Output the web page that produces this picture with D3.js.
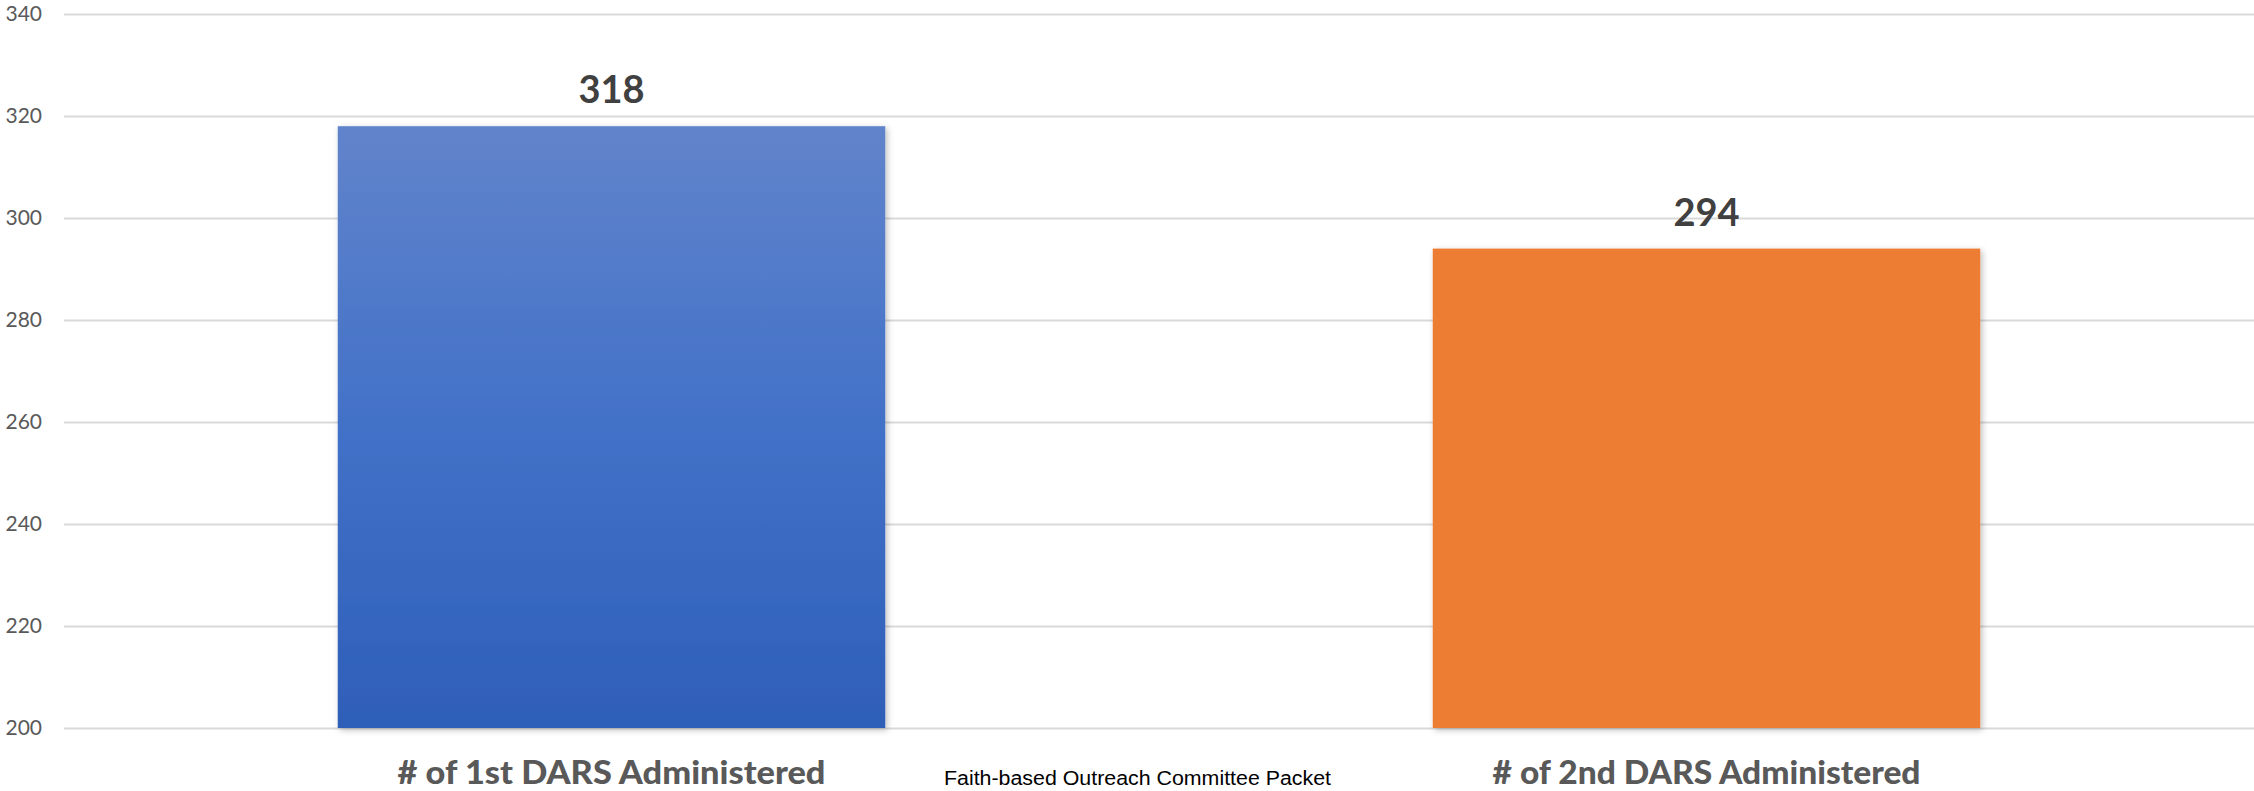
<!DOCTYPE html>
<html>
<head>
<meta charset="utf-8">
<script src="https://cdn.jsdelivr.net/npm/d3@7"></script>
<style>
  html, body { margin: 0; padding: 0; background: #fff; }
  svg { display: block; }
</style>
</head>
<body>
<div id="chart"></div>
<script>
const categories = ["# of 1st DARS Administered", "# of 2nd DARS Administered"];
const values = [318, 294];
const yTicks = [200, 220, 240, 260, 280, 300, 320, 340];
const footer = "Faith-based Outreach Committee Packet";

const W = 2254, H = 791;
const margin = { left: 64, right: 0, top: 14, bottom: 63 };

const svg = d3.select("#chart").append("svg").attr("width", W).attr("height", H);
const defs = svg.append("defs");

const grad = defs.append("linearGradient").attr("id", "blueGrad")
  .attr("x1", 0).attr("y1", 0).attr("x2", 0).attr("y2", 1);
grad.append("stop").attr("offset", "0%").attr("stop-color", "#6184cb");
grad.append("stop").attr("offset", "50%").attr("stop-color", "#4271c8");
grad.append("stop").attr("offset", "100%").attr("stop-color", "#2e5fb8");

const shadow = defs.append("filter").attr("id", "shadow")
  .attr("x", "-5%").attr("y", "-5%").attr("width", "115%").attr("height", "115%");
shadow.append("feDropShadow").attr("dx", 2).attr("dy", 2).attr("stdDeviation", 3)
  .attr("flood-color", "#000").attr("flood-opacity", 0.25);

const x = d3.scaleBand().domain(categories)
  .range([margin.left, W - margin.right]).paddingInner(0.5).paddingOuter(0.25);
const y = d3.scaleLinear().domain([200, 340]).range([H - margin.bottom, margin.top]);

// gridlines
const gAxis = svg.append("g").attr("transform", `translate(${margin.left},0)`)
  .call(d3.axisLeft(y).tickValues(yTicks).tickSize(-(W - margin.left - margin.right)).tickPadding(22));
gAxis.select(".domain").remove();
gAxis.selectAll(".tick line").attr("stroke", "#d9d9d9").attr("stroke-width", 2);
gAxis.selectAll(".tick text").attr("fill", "#595959")
  .style("font-family", "Lato, 'Open Sans', sans-serif").style("font-size", "21px");

// bars
const colors = ["url(#blueGrad)", "#ed7d31"];
svg.append("g").selectAll("rect").data(values).join("rect")
  .attr("x", (d, i) => x(categories[i]))
  .attr("y", d => y(d))
  .attr("width", x.bandwidth())
  .attr("height", d => y(200) - y(d))
  .attr("fill", (d, i) => colors[i])
  .attr("filter", "url(#shadow)");

// data labels
svg.append("g").selectAll("text").data(values).join("text")
  .attr("x", (d, i) => x(categories[i]) + x.bandwidth() / 2)
  .attr("y", d => y(d) - 23)
  .attr("text-anchor", "middle")
  .attr("fill", "#404040")
  .style("font-family", "Lato, sans-serif").style("font-weight", "bold").style("font-size", "38px")
  .text(d => d);

// category labels
svg.append("g").selectAll("text").data(categories).join("text")
  .attr("x", d => x(d) + x.bandwidth() / 2)
  .attr("y", 784)
  .attr("text-anchor", "middle")
  .attr("fill", "#595959")
  .style("font-family", "Lato, sans-serif").style("font-weight", "900").style("font-size", "32px")
  .attr("textLength", 428).attr("lengthAdjust", "spacingAndGlyphs")
  .text(d => d);

// footer
svg.append("text")
  .attr("x", 944).attr("y", 785)
  .attr("fill", "#000")
  .style("font-family", "'Liberation Sans', Arial, sans-serif").style("font-size", "20px")
  .attr("textLength", 387).attr("lengthAdjust", "spacingAndGlyphs")
  .text(footer);
</script>
</body>
</html>
